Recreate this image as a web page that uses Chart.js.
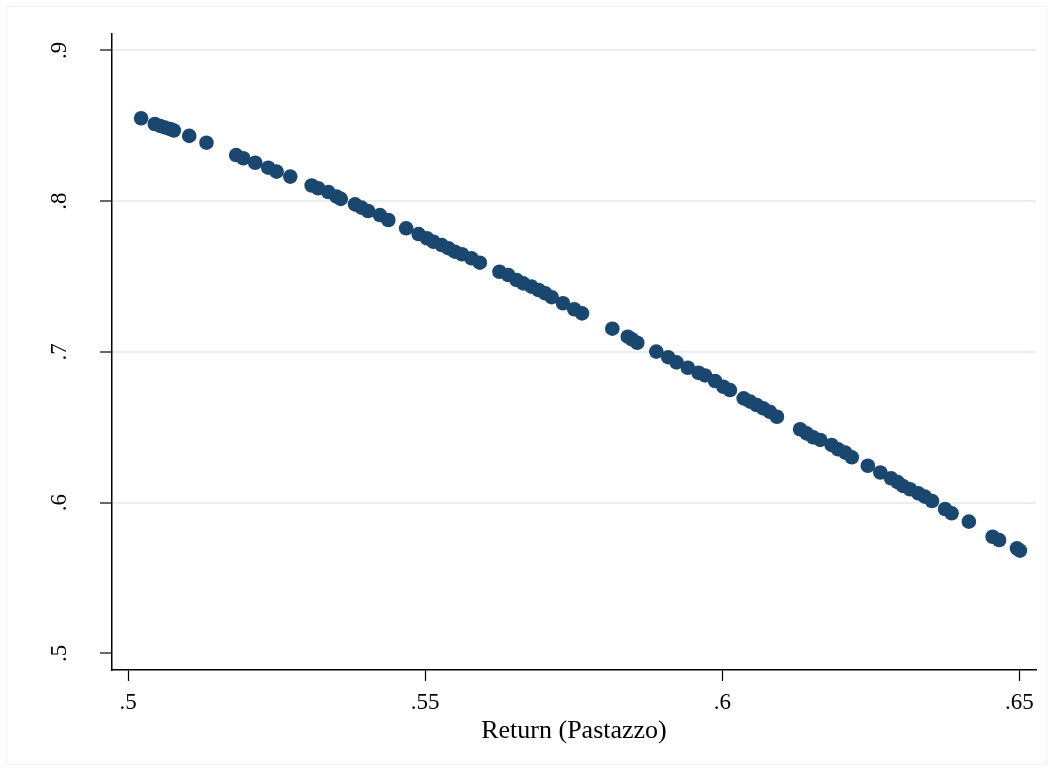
<!DOCTYPE html>
<html>
<head>
<meta charset="utf-8">
<script src="https://cdn.jsdelivr.net/npm/chart.js@4/dist/chart.umd.min.js"></script>
<style>
  html, body { margin: 0; padding: 0; background: #ffffff; }
  #wrap { width: 1053px; height: 771px; position: relative; }
</style>
</head>
<body>
<div id="wrap"><canvas id="scatterChart"></canvas></div>
<script>
// values
const returnPastazzo = [
    0.5022, 0.5045, 0.5054, 0.5062, 0.5071, 0.5077, 0.5103, 0.5132, 0.5182, 0.5194,
    0.5214, 0.5236, 0.5250, 0.5273, 0.5309, 0.5320, 0.5337, 0.5351, 0.5358, 0.5382,
    0.5393, 0.5404, 0.5424, 0.5438, 0.5468, 0.5489, 0.5503, 0.5514, 0.5528, 0.5539,
    0.5550, 0.5562, 0.5578, 0.5592, 0.5625, 0.5640, 0.5654, 0.5665, 0.5679, 0.5691,
    0.5702, 0.5713, 0.5732, 0.5751, 0.5764, 0.5815, 0.5841, 0.5848, 0.5857, 0.5889,
    0.5909, 0.5923, 0.5942, 0.5960, 0.5971, 0.5988, 0.6002, 0.6013, 0.6036, 0.6047,
    0.6058, 0.6069, 0.6080, 0.6092, 0.6131, 0.6142, 0.6153, 0.6165, 0.6184, 0.6195,
    0.6207, 0.6218, 0.6245, 0.6266, 0.6284, 0.6295, 0.6304, 0.6316, 0.6330, 0.6341,
    0.6353, 0.6375, 0.6386, 0.6415, 0.6455, 0.6466, 0.6496, 0.6501
];
const otherReturn = [
    0.8549, 0.8511, 0.8498, 0.8488, 0.8478, 0.8468, 0.8432, 0.8387, 0.8305, 0.8284,
    0.8254, 0.8221, 0.8195, 0.8162, 0.8103, 0.8085, 0.8060, 0.8029, 0.8014, 0.7978,
    0.7956, 0.7934, 0.7907, 0.7874, 0.7819, 0.7781, 0.7753, 0.7730, 0.7708, 0.7687,
    0.7664, 0.7647, 0.7620, 0.7591, 0.7531, 0.7509, 0.7476, 0.7454, 0.7432, 0.7410,
    0.7388, 0.7362, 0.7322, 0.7282, 0.7255, 0.7153, 0.7100, 0.7083, 0.7060, 0.7001,
    0.6964, 0.6930, 0.6894, 0.6861, 0.6843, 0.6806, 0.6768, 0.6746, 0.6691, 0.6669,
    0.6647, 0.6625, 0.6602, 0.6569, 0.6486, 0.6459, 0.6433, 0.6415, 0.6382, 0.6353,
    0.6331, 0.6300, 0.6244, 0.6199, 0.6161, 0.6136, 0.6110, 0.6088, 0.6061, 0.6039,
    0.6010, 0.5957, 0.5929, 0.5873, 0.5773, 0.5751, 0.5696, 0.5681
];
const xTicks = [0.5, 0.55, 0.6, 0.65];
const yTicks = [0.5, 0.6, 0.7, 0.8, 0.9];
const xTitle = 'Return (Pastazzo)';

const fmt = v => String(+v.toFixed(2)).replace(/^0/, '');
const serif = '"Liberation Serif", "DejaVu Serif", serif';

// outer frame + rotated y labels (Stata style)
const stataLook = {
    id: 'stataLook',
    beforeDraw(chart) {
        const ctx = chart.ctx;
        ctx.save();
        ctx.strokeStyle = '#eef3f5';
        ctx.lineWidth = 1;
        ctx.strokeRect(6.5, 6.5, chart.width - 13, chart.height - 13);
        ctx.restore();
    },
    afterDraw(chart) {
        const ctx = chart.ctx;
        const yScale = chart.scales.y;
        ctx.save();
        ctx.fillStyle = '#000000';
        ctx.font = '23px ' + serif;
        ctx.textAlign = 'center';
        ctx.textBaseline = 'middle';
        yTicks.forEach(v => {
            const py = yScale.getPixelForValue(v);
            ctx.save();
            ctx.translate(60, py);
            ctx.rotate(-Math.PI / 2);
            ctx.fillText(fmt(v), 0, 0);
            ctx.restore();
        });
        ctx.restore();
    }
};

const points = returnPastazzo.map((x, i) => ({ x: x, y: otherReturn[i] }));

new Chart(document.getElementById('scatterChart'), {
    type: 'scatter',
    data: {
        datasets: [{
            data: points,
            backgroundColor: '#1a476f',
            borderColor: '#1a476f',
            borderWidth: 0,
            pointRadius: 7.3,
            pointHoverRadius: 7.3
        }]
    },
    options: {
        responsive: true,
        maintainAspectRatio: false,
        animation: false,
        events: [],
        layout: { padding: { top: 34, right: 17, left: 0, bottom: 0 } },
        plugins: {
            legend: { display: false },
            tooltip: { enabled: false }
        },
        scales: {
            x: {
                type: 'linear',
                min: 0.4973,
                max: 0.6528,
                afterBuildTicks: s => { s.ticks = xTicks.map(v => ({ value: v })); },
                afterFit: s => { s.height = 101; },
                border: { display: true, color: '#000000', width: 1.5 },
                grid: {
                    drawOnChartArea: false,
                    drawTicks: true,
                    tickLength: 11,
                    tickColor: '#000000',
                    tickWidth: 1.2
                },
                ticks: {
                    color: '#000000',
                    padding: 8,
                    maxRotation: 0,
                    font: { family: serif, size: 23 },
                    callback: v => fmt(v)
                },
                title: {
                    display: true,
                    text: xTitle,
                    color: '#000000',
                    font: { family: serif, size: 26 },
                    padding: { top: 0, bottom: 24 }
                }
            },
            y: {
                type: 'linear',
                min: 0.4889,
                max: 0.9108,
                afterBuildTicks: s => { s.ticks = yTicks.map(v => ({ value: v })); },
                afterFit: s => { s.width = 112; },
                border: { display: true, color: '#000000', width: 1.5 },
                grid: {
                    color: c => (c.tick && c.tick.value === 0.5) ? 'rgba(0,0,0,0)' : '#e6eff1',
                    lineWidth: 2,
                    drawTicks: true,
                    tickLength: 12,
                    tickColor: '#000000',
                    tickWidth: 1.2
                },
                ticks: { display: false }
            }
        }
    },
    plugins: [stataLook]
});
</script>
</body>
</html>
